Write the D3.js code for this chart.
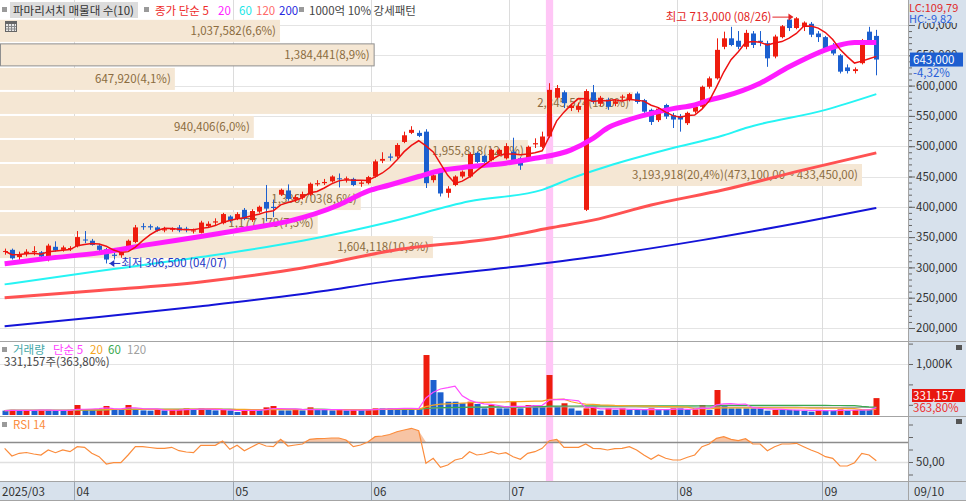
<!DOCTYPE html>
<html>
<head>
<meta charset="utf-8">
<script src="https://cdn.jsdelivr.net/npm/d3@7"></script>
<style>
  body { margin: 0; background: #fff; }
  svg { display: block; font-family: "Noto Sans CJK KR", "Noto Sans", sans-serif; }
</style>
</head>
<body>
<svg id="chart" width="966" height="501"></svg>
<script>
// ---- data (prices in thousand won, volume in thousand shares) ----
var monthLabels = ["2025/03", "04", "05", "06", "07", "08", "09"];
var monthDays = [
    [18,19,20,21,24,25,26,27,28,31],
    [1,2,3,4,7,8,9,10,11,14,15,16,17,18,21,22,23,24,25,28,29,30],
    [2,7,8,9,12,13,14,15,16,19,20,21,22,23,26,27,28,29,30],
    [2,4,5,9,10,11,12,13,16,17,18,19,20,23,24,25,26,27,30],
    [1,2,3,4,7,8,9,10,11,14,15,16,17,18,21,22,23,24,25,28,29,30,31],
    [1,4,5,6,7,8,11,12,13,14,18,19,20,21,22,25,26,27,28,29],
    [1,2,3,4,5,8,9,10]
];
var lastDateLabel = "09/10";
var emptySlots = 4;

var opens  = [326,329,317,322,325,325,314,334,329,330, 335,346,344,336,330,321,320,331,342,368,
              368,366,361,362,366,364,360,357,368,374, 373,384,380,395,378,392,408,400,420,427,
              412,415,420,437,439,442,447,446,446,438, 439,450,476,483,483,507,522,522,524,444,
              460,423,436,450,450,489,484,477,487,480, 491,480,477,503,499,516,580,589,563,560,
              395,589,570,577,570,580,576,587,576,560, 543,568,551,550,538,557,565,598,612,664,
              678,674,664,686,674,670,648,680,709,695, 697,702,686,680,667,650,630,624,637,689, 682];
var highs  = [331,331,326,330,335,327,339,343,336,335, 360,360,347,339,332,324,328,346,370,373,
              371,368,367,366,370,367,364,377,376,381, 390,386,391,398,396,402,436,412,430,437,
              420,425,440,444,446,452,455,450,448,443, 451,478,490,488,505,524,533,526,528,456,
              462,434,452,460,490,491,486,496,496,505, 514,482,501,513,524,604,601,592,570,572,
              594,601,583,580,578,585,588,590,578,562, 564,570,555,553,557,567,600,615,678,689,
              697,690,692,690,690,674,684,700,712,713, 706,705,690,682,670,652,635,630,677,697, 692];
var lows   = [321,313,312,318,320,312,310,326,326,327, 333,340,336,326,306.5,313,316,330,340,362,
              362,359,358,359,358,358,356,356,365,370, 371,374,378,378,375,390,376,383,418,410,
              408,412,418,434,436,440,432,440,434,433, 437,448,472,476,480,505,520,515,431,440,
              417,415,434,447,448,472,470,475,485,478, 472,461,475,497,497,514,578,563,558,556,
              393,570,566,560,566,576,574,570,555,535, 540,545,530,524,535,554,562,595,610,660,
              665,660,660,662,665,631,645,678,690,693, 690,680,672,656,650,620,620,620,635,670, 617];
var closes = [327,315,322,326,327,318,336,328,333,332, 350,345,337,329,313,319,325,344,366,367,
              366,361,363,364,361,362,361,374,372,376, 388,377,388,380,393,400,397,398,428,413,
              416,421,438,439,441,450,446,447,436,440, 449,475,479,481,502,518,527,517,439,452,
              422,430,450,458,487,474,474,494,494,500, 474,468,499,505,516,593,596,571,567,566,
              591,573,580,565,574,582,586,573,557,540, 562,549,544,544,555,565,598,612,659,678,
              667,664,687,667,672,645,681,698,695,711, 704,684,680,659,653,623,624,627,675,672, 643];
var volumes = [85,100,90,95,85,100,100,80,80,100, 196,110,100,110,176,120,100,196,120,90,
               85,100,90,100,110,130,110,130,100,90, 100,90,60,100,110,100,150,176,90,90,
               100,90,150,100,100,90,100,90,100,100, 110,130,130,130,130,130,130,110,1176,686,
               445,261,261,230,261,216,130,196,130,130, 261,130,196,196,163,784,163,230,130,85,
               130,163,85,130,100,130,100,100,100,130, 100,100,130,130,100,110,196,100,490,196,
               130,130,130,130,130,85,100,100,100,100, 80,65,100,85,85,110,85,100,100,100, 331.157];
var rsiValues = [63.7,56,58.7,59.5,58,57,62,59.3,62,60.3, 65.3,64.7,58.7,55.3,48,49.3,49.3,57,65.3,65.3,
                 64.5,63.7,63.7,64.7,61.3,60,59.3,66.7,66.7,66.7, 71,62.7,66.7,61.3,65,68.7,66,65.3,72.7,66,
                 67,68,72.7,73.3,73.5,74,74,72,65.3,67, 70,75.3,76,77.5,80.3,82,83.7,81.3,48.7,53.7,
                 44.7,47,52,53.7,60.3,57,58,60.3,58,59.3, 55.3,52.7,58.7,60.3,63.7,71.3,72.7,64.7,64.7,64.7,
                 68,63.7,63.3,62,63.3,63.7,65.3,62,57,52.7, 57,53.7,52,52,54.7,57,65.3,68,73.7,75.3,
                 72.7,71.3,73.3,68,68,61.3,65.3,68,68,68.7, 65.3,62,59.3,55.3,53.7,46,46,49.3,58.7,57, 51.3];

// longer moving averages: [day index, thousand won]
var ma20Points  = [[0,306],[6,315],[13,324],[20,338],[27,351],[34,365],[39,376],[46,403],[50,426],[53,436],
                   [57,450],[60,460],[64,466],[69,472],[73,480],[78,494],[81,513],[83,530],[85,540],[88,551],
                   [92,562],[95,568],[97,576],[99,582],[104,604],[108,631],[113,659],[115,667],[117,671],[120,671]];
var ma60Points  = [[0,272],[13,294],[27,317],[41,344],[53,375],[64,409],[74,428],[78,447],[83,467],[92,497],
                   [99,518],[102,530],[113,560],[120,586]];
var ma120Points = [[0,250],[13,262],[27,276],[41,299],[54,329],[68,349],[75,365],[81,378],[89,403],[99,428],
                   [110,461],[120,489]];
var ma200Points = [[0,203],[13,218],[27,236],[41,256],[54,279],[68,298],[82,319],[96,345],[110,375],[120,398]];

// volume profile (top band first)
var profileVolumes = [1037582,1384441,647920,2345524,940406,1955818,3193918,1336703,1177179,1604118];
var profileTop = 711000;
var profileStep = 39650;

var highlightIndex = 75;
var changePct = "-4,32%";
var volChange = "363,80%";
var lcText = "LC:109,79", hcText = "HC:-9,82";

// ---- build ----
var dates = [];
monthDays.forEach(function(days, m) {
    days.forEach(function(d) { dates.push({m: m, d: d}); });
});
var candles = dates.map(function(dt, i) {
    return {i: i, m: dt.m, d: dt.d, o: opens[i] * 1000, h: highs[i] * 1000, l: lows[i] * 1000,
            c: closes[i] * 1000, v: volumes[i] * 1000, rsi: rsiValues[i]};
});
var n = candles.length;

function sma(arr, len) {
    return arr.map(function(v, i) {
        var s = arr.slice(Math.max(0, i - len + 1), i + 1);
        return d3.mean(s);
    });
}
var ma5 = sma(candles.map(d => d.c), 5);
var vol5 = sma(candles.map(d => d.v), 5);
var vol20 = sma(candles.map(d => d.v), 20);
var vol60 = sma(candles.map(d => d.v), 60);
var vol120 = sma(candles.map(d => d.v), 120);

var W = 966, H = 501, plotR = 908;
var RED = "#ee1c0e", BLUE = "#1b5fcf", AXISBG = "#d7e1ec";
var svg = d3.select("#chart");

var x = d3.scaleBand().domain(d3.range(n + emptySlots)).range([1, 909]).paddingInner(0.3).paddingOuter(0.15);
var step = x.step();
var cx = i => x(i) + x.bandwidth() / 2;
var y = d3.scaleLinear().domain([200000, 700000]).range([328, 25]);
var yv = d3.scaleLinear().domain([0, 1000000]).range([415, 364]);
var yr = d3.scaleLinear().domain([50, 70]).range([462, 442]);

var defs = svg.append("defs");
function clip(id, y0, y1) {
    defs.append("clipPath").attr("id", id).append("rect")
        .attr("x", 0).attr("y", y0).attr("width", plotR).attr("height", y1 - y0);
}
clip("cMain", 0, 341); clip("cVol", 342, 416); clip("cRsi", 417, 481);

// backgrounds
svg.append("rect").attr("width", W).attr("height", H).attr("fill", "#fff");
svg.append("rect").attr("x", plotR).attr("y", 0).attr("width", W - plotR).attr("height", H).attr("fill", AXISBG);
svg.append("rect").attr("x", 0).attr("y", 482).attr("width", plotR).attr("height", H - 482).attr("fill", AXISBG);

// grid
var priceTicks = d3.range(200000, 700001, 50000);
svg.append("g").attr("clip-path", "url(#cMain)").selectAll("line").data(priceTicks).enter().append("line")
    .attr("x1", 0).attr("x2", plotR).attr("y1", d => Math.round(y(d)) + 0.5).attr("y2", d => Math.round(y(d)) + 0.5)
    .attr("stroke", "#e4e4e4");
svg.append("line").attr("x1", 0).attr("x2", plotR).attr("y1", Math.round(yv(1000000)) + 0.5).attr("y2", Math.round(yv(1000000)) + 0.5).attr("stroke", "#e4e4e4");
svg.append("line").attr("x1", 0).attr("x2", plotR).attr("y1", yr(50) + 0.5).attr("y2", yr(50) + 0.5).attr("stroke", "#e0e0e0").attr("stroke-width", 1.5);

var monthStarts = [];
candles.forEach(function(d, i) { if (i === 0 || d.m !== candles[i - 1].m) monthStarts.push(i); });
svg.append("g").selectAll("line").data(monthStarts.slice(1)).enter().append("line")
    .attr("x1", i => Math.round(x(i) - (step - x.bandwidth()) / 2) + 0.5)
    .attr("x2", i => Math.round(x(i) - (step - x.bandwidth()) / 2) + 0.5)
    .attr("y1", 0).attr("y2", 481).attr("stroke", "#dcdcdc");

// highlighted day
svg.append("rect").attr("x", x(highlightIndex) - 1).attr("y", 0).attr("width", step).attr("height", 481)
    .attr("fill", "#ffc6f6");

// volume profile
var pw = d3.scaleLinear().domain([0, d3.max(profileVolumes)]).range([0, 862]);
var total = d3.sum(profileVolumes);
var lastClose = candles[n - 1].c;
var fmt = d3.format(",");
var profile = svg.append("g").attr("clip-path", "url(#cMain)");
profileVolumes.forEach(function(v, k) {
    var top = profileTop - k * profileStep, bot = top - profileStep;
    var isCur = lastClose <= top && lastClose > bot;
    profile.append("rect").attr("x", isCur ? 0.5 : 0).attr("y", y(top) + 1.5)
        .attr("width", pw(v)).attr("height", y(bot) - y(top) - 2)
        .attr("fill", "#f5e7d4").attr("stroke", isCur ? "#8f8f8f" : "none");
});
profileVolumes.forEach(function(v, k) {
    var top = profileTop - k * profileStep, bot = top - profileStep;
    var pct = d3.format(".1f")(v / total * 100).replace(".", ",");
    var label = fmt(v) + "(" + pct + "%)";
    if (v === d3.max(profileVolumes)) {
        label += "(" + d3.format(",.2f")(top).replace(".", ",") + " ~ " + d3.format(",.2f")(bot).replace(".", ",") + ")";
    }
    profile.append("text").attr("x", pw(v) - 4).attr("y", (y(top) + y(bot)) / 2 + 4.5)
        .attr("text-anchor", "end").attr("font-size", 11.5).attr("fill", "#8b6c40").text(label);
});

// moving averages + candles
var main = svg.append("g").attr("clip-path", "url(#cMain)");
var maLine = d3.line().x(d => cx(d[0])).y(d => y(d[1] * 1000)).curve(d3.curveMonotoneX);
main.append("path").datum(ma200Points).attr("d", maLine).attr("fill", "none").attr("stroke", "#1414d8").attr("stroke-width", 2);
main.append("path").datum(ma120Points).attr("d", maLine).attr("fill", "none").attr("stroke", "#ff5252").attr("stroke-width", 3);
main.append("path").datum(ma60Points).attr("d", maLine).attr("fill", "none").attr("stroke", "#26f4f4").attr("stroke-width", 2);

var cg = main.selectAll("g.candle").data(candles).enter().append("g");
cg.append("line")
    .attr("x1", d => Math.round(cx(d.i)) + 0.5).attr("x2", d => Math.round(cx(d.i)) + 0.5)
    .attr("y1", d => y(d.h)).attr("y2", d => y(d.l))
    .attr("stroke", d => d.c >= d.o ? RED : BLUE);
cg.append("rect")
    .attr("x", d => Math.round(cx(d.i)) - 2).attr("width", 5)
    .attr("y", d => y(Math.max(d.o, d.c)))
    .attr("height", d => Math.max(1, Math.abs(y(d.o) - y(d.c))))
    .attr("fill", d => d.c >= d.o ? RED : BLUE);

main.append("path").datum(ma20Points).attr("d", maLine).attr("fill", "none").attr("stroke", "#ff1cff").attr("stroke-width", 5);
main.append("path").datum(ma5).attr("d", d3.line().x((d, i) => cx(i)).y(d => y(d)))
    .attr("fill", "none").attr("stroke", "#ee1111").attr("stroke-width", 1.5);

// high / low annotations
var hiIdx = d3.maxIndex(candles, d => d.h), loIdx = d3.minIndex(candles, d => d.l);
var hi = candles[hiIdx], lo = candles[loIdx];
var hx = cx(hiIdx), hy = y(hi.h);
main.append("line").attr("x1", hx - 24).attr("x2", hx - 4).attr("y1", hy).attr("y2", hy).attr("stroke", "#e32424");
main.append("path").attr("d", "M" + (hx - 3) + "," + hy + "l-5,-3.5v7z").attr("fill", "#e32424");
main.append("text").attr("x", hx - 25).attr("y", hy + 4).attr("text-anchor", "end").attr("font-size", 11.5)
    .attr("fill", "#e32424")
    .text("최고 " + fmt(hi.h) + " (" + d3.format("02")(hi.m + 3) + "/" + d3.format("02")(hi.d) + ")");
var lx = cx(loIdx), ly = y(lo.l);
main.append("line").attr("x1", lx + 3).attr("x2", lx + 14).attr("y1", ly).attr("y2", ly).attr("stroke", "#2234c4");
main.append("path").attr("d", "M" + (lx + 3) + "," + ly + "l5,-3.5v7z").attr("fill", "#2234c4");
main.append("text").attr("x", lx + 15).attr("y", ly + 4).attr("font-size", 11.5).attr("fill", "#2234c4")
    .text("최저 " + fmt(lo.l) + " (" + d3.format("02")(lo.m + 3) + "/" + d3.format("02")(lo.d) + ")");

// top legend
var lg = svg.append("g").attr("font-size", 11.5);
lg.append("rect").attr("x", 2).attr("y", 7).attr("width", 5).attr("height", 5).attr("fill", "#9a9a9a");
lg.append("rect").attr("x", 10).attr("y", 2).attr("width", 128).attr("height", 16).attr("fill", "#dcdcdc");
lg.append("text").attr("x", 13).attr("y", 14.5).attr("fill", "#333").text("파마리서치 매물대 수(10)");
lg.append("rect").attr("x", 144).attr("y", 7).attr("width", 5).attr("height", 5).attr("fill", "#9a9a9a");
[["종가 단순 5", 155, "#ee2a2a"], ["20", 218, "#ff22ff"], ["60", 239, "#22e6e6"], ["120", 256, "#ff6a6a"],
 ["200", 279, "#2828e0"]].forEach(function(t) {
    lg.append("text").attr("x", t[1]).attr("y", 14.5).attr("fill", t[2]).text(t[0]);
});
lg.append("rect").attr("x", 299).attr("y", 7).attr("width", 5).attr("height", 5).attr("fill", "#9a9a9a");
lg.append("text").attr("x", 309).attr("y", 14.5).attr("fill", "#444").text("1000억 10% 강세패턴");
// small calendar icon
var ic = svg.append("g").attr("transform", "translate(5,21)");
ic.append("rect").attr("x", 0.5).attr("y", 0.5).attr("width", 11).attr("height", 10).attr("fill", "#e8e8e8").attr("stroke", "#666");
ic.append("rect").attr("x", 0.5).attr("y", 0.5).attr("width", 11).attr("height", 2.5).attr("fill", "#666");
[3, 6, 9].forEach(function(v) {
    ic.append("line").attr("x1", v + 0.5).attr("x2", v + 0.5).attr("y1", 3).attr("y2", 10).attr("stroke", "#888");
});
[5.5, 8].forEach(function(v) {
    ic.append("line").attr("x1", 1).attr("x2", 11).attr("y1", v).attr("y2", v).attr("stroke", "#888");
});

// ---- volume pane ----
var vg = svg.append("g").attr("clip-path", "url(#cVol)");
vg.selectAll("rect").data(candles).enter().append("rect")
    .attr("x", d => Math.round(cx(d.i)) - 2.5).attr("width", 6)
    .attr("y", d => yv(d.v)).attr("height", d => yv(0) - yv(d.v))
    .attr("fill", (d, i) => i > 0 && d.v > candles[i - 1].v ? RED : BLUE);
var vLine = d3.line().x((d, i) => cx(i)).y(d => yv(d));
[[vol120, "#a8a8a8"], [vol60, "#3aa84e"], [vol20, "#f5a623"], [vol5, "#ff4cff"]].forEach(function(s) {
    vg.append("path").datum(s[0]).attr("d", vLine).attr("fill", "none").attr("stroke", s[1]).attr("stroke-width", 1.2);
});
var vl = svg.append("g").attr("font-size", 11.5);
vl.append("rect").attr("x", 2).attr("y", 347).attr("width", 5).attr("height", 5).attr("fill", "#9a9a9a");
[["거래량", 13, "#45a7a7"], ["단순 5", 53, "#ff44ff"], ["20", 90, "#f5a623"], ["60", 108, "#3aa84e"], ["120", 127, "#a0a0a0"]]
    .forEach(function(t) { vl.append("text").attr("x", t[1]).attr("y", 354).attr("fill", t[2]).text(t[0]); });
vl.append("text").attr("x", 4).attr("y", 366).attr("fill", "#444")
    .text(fmt(candles[n - 1].v) + "주(" + volChange + ")");

// ---- RSI pane ----
var rg = svg.append("g").attr("clip-path", "url(#cRsi)");
rg.append("path").datum(candles)
    .attr("d", d3.area().x(d => cx(d.i)).y0(yr(70)).y1(d => yr(Math.max(70, d.rsi))))
    .attr("fill", "#f7c4a4");
[70, 30].forEach(function(v) {
    rg.append("line").attr("x1", 0).attr("x2", plotR).attr("y1", yr(v) + 0.5).attr("y2", yr(v) + 0.5)
        .attr("stroke", "#8c8c8c").attr("stroke-width", 1.5);
});
rg.append("path").datum(candles).attr("d", d3.line().x(d => cx(d.i)).y(d => yr(d.rsi)))
    .attr("fill", "none").attr("stroke", "#fb8c3c").attr("stroke-width", 1.2);
svg.append("rect").attr("x", 2).attr("y", 422).attr("width", 5).attr("height", 5).attr("fill", "#9a9a9a");
svg.append("text").attr("x", 13).attr("y", 429).attr("font-size", 11.5).attr("fill", "#fb8c3c").text("RSI 14");

// pane borders
[341.5, 416.5, 481.5, 500.5].forEach(function(v) {
    svg.append("line").attr("x1", 0).attr("x2", W).attr("y1", v).attr("y2", v).attr("stroke", "#a4a4a4");
});
svg.append("line").attr("x1", plotR + 0.5).attr("x2", plotR + 0.5).attr("y1", 0).attr("y2", H).attr("stroke", "#a4a4a4");

// ---- right axes ----
var ax = svg.append("g").attr("transform", "translate(" + (plotR + 1) + ",0)");
ax.append("g").call(d3.axisRight(y).tickValues(d3.range(200000, 710001, 10000)).tickSize(3).tickFormat(""));
ax.append("g").call(d3.axisRight(y).tickValues(priceTicks).tickSize(6).tickFormat(fmt));
ax.append("g").call(d3.axisRight(yv).tickValues([200000, 600000, 1000000, 1400000]).tickSize(4)
    .tickFormat(d => d === 1000000 ? "1,000K" : ""));
ax.append("g").call(d3.axisRight(yr).tickValues([37.5, 50, 62.5, 75, 87.5]).tickSize(4)
    .tickFormat(d => d === 50 ? "50,00" : ""));
ax.selectAll(".domain").remove();
ax.selectAll(".tick line").attr("stroke", "#666");
ax.selectAll(".tick text").attr("font-size", 11.5).attr("fill", "#333")
    .attr("font-family", "\"Noto Sans CJK KR\", sans-serif").attr("x", 7);

// LC / HC
svg.append("rect").attr("x", plotR + 1).attr("y", 0).attr("width", W - plotR).attr("height", 23).attr("fill", AXISBG);
svg.append("text").attr("x", 909).attr("y", 12).attr("font-size", 11).attr("fill", "#e02a2a").text(lcText);
svg.append("text").attr("x", 909).attr("y", 23).attr("font-size", 11).attr("fill", "#2a60d8").text(hcText);

// last price marker
var py = y(lastClose);
svg.append("rect").attr("x", 910).attr("y", py - 7).attr("width", 53).attr("height", 14).attr("fill", "#1d5ed0");
svg.append("text").attr("x", 913).attr("y", py + 4.5).attr("font-size", 11.5).attr("fill", "#fff").text(fmt(lastClose));
svg.append("text").attr("x", 913).attr("y", py + 17).attr("font-size", 11.5).attr("fill", "#2a60d8").text(changePct);

// last volume marker
var vy = 396;
svg.append("rect").attr("x", 912).attr("y", vy - 7).attr("width", 53).attr("height", 13).attr("fill", "#e8170f");
svg.append("text").attr("x", 913).attr("y", vy + 4).attr("font-size", 11.5).attr("fill", "#fff").text(fmt(candles[n - 1].v));
svg.append("text").attr("x", 913).attr("y", vy + 16).attr("font-size", 11.5).attr("fill", "#ee3030").text(volChange);

// pane icons
[345, 419].forEach(function(v) {
    svg.append("rect").attr("x", 956).attr("y", v).attr("width", 6).attr("height", 5).attr("fill", "#555");
});

// ---- x axis ----
var xa = svg.append("g").attr("font-size", 11.5).attr("fill", "#333");
monthStarts.forEach(function(i, k) {
    var bx = k === 0 ? 0 : Math.round(x(i) - (step - x.bandwidth()) / 2) + 0.5;
    if (k > 0) xa.append("line").attr("x1", bx).attr("x2", bx).attr("y1", 482).attr("y2", 501).attr("stroke", "#9aa4b0");
    xa.append("text").attr("x", bx + 2).attr("y", 496).text(monthLabels[k]);
});
xa.append("text").attr("x", 914).attr("y", 496).text(lastDateLabel);
</script>
</body>
</html>
